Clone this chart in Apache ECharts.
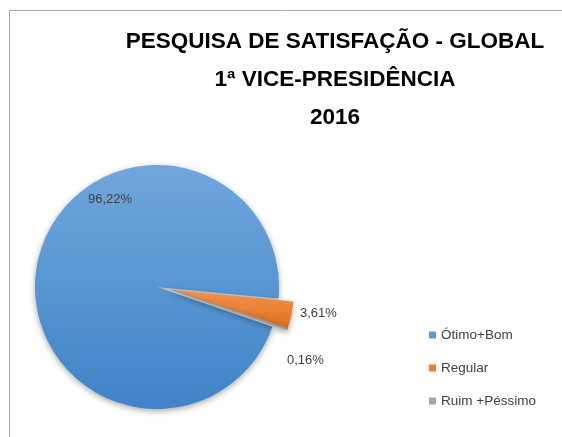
<!DOCTYPE html>
<html>
<head>
<meta charset="utf-8">
<script src="https://cdn.jsdelivr.net/npm/echarts@6/dist/echarts.min.js"></script>
<style>
  html, body { margin: 0; padding: 0; background: #fff; }
  #chart { width: 562px; height: 437px; }
</style>
</head>
<body>
<div id="chart"></div>
<script>
var titleLines = ['PESQUISA DE SATISFAÇÃO - GLOBAL', '1ª VICE-PRESIDÊNCIA', '2016'];
var categories = ['Ótimo+Bom', 'Regular', 'Ruim +Péssimo'];
var values = [96.22, 3.61, 0.16];
var exploded = [false, true, true];

var legendColors = ['#5b9bd5', '#ed7d31', '#a5a5a5'];
var sliceColors = [
    ['#70a6dc', '#3f84c8'],
    ['#f4924e', '#df6f1d'],
    ['#b5b5b5', '#8e8e8e']
];
// where the data labels sit (x, y, align)
var labelSpots = [[110, 199, 'center'], [300, 313, 'left'], [287, 360, 'left']];

var pieCenter = [157, 287];
var pieRadius = 122;
var explodeShift = [15, 3];

function pct(v) {
    return v.toFixed(2).replace('.', ',') + '%';
}

var chart = echarts.init(document.getElementById('chart'));

// one pie per layer: the un-exploded slices, then the pulled-out ones
function layerData(wantExploded) {
    return categories.map(function(name, i) {
        var shown = exploded[i] === wantExploded;
        return {
            name: name,
            value: values[i],
            label: { show: shown },
            itemStyle: shown ? {
                color: {
                    type: 'linear', x: 0, y: 0, x2: 0, y2: 1,
                    colorStops: [
                        { offset: 0, color: sliceColors[i][0] },
                        { offset: 1, color: sliceColors[i][1] }
                    ]
                },
                borderWidth: i === 2 ? 1 : 0,
                borderColor: '#9a9a9a',
                shadowBlur: 6,
                shadowOffsetY: 2,
                shadowColor: 'rgba(0,0,0,0.35)'
            } : { color: 'rgba(0,0,0,0)', borderWidth: 0 }
        };
    });
}

function pieSeries(wantExploded, center) {
    return {
        type: 'pie',
        center: center,
        radius: pieRadius,
        startAngle: 341,
        clockwise: true,
        avoidLabelOverlap: false,
        data: layerData(wantExploded),
        label: {
            position: 'outside',
            formatter: function(p) { return pct(p.value); },
            fontFamily: 'Liberation Sans, Arial, sans-serif',
            fontSize: 13,
            color: '#404040'
        },
        labelLine: { show: false },
        labelLayout: function(p) {
            var s = labelSpots[p.dataIndex];
            return { x: s[0], y: s[1], align: s[2], verticalAlign: 'middle' };
        },
        emphasis: { disabled: true }
    };
}

var option = {
    animation: false,
    backgroundColor: '#ffffff',
    title: {
        text: titleLines.join('\n'),
        left: 330,
        top: 18,
        textAlign: 'center',
        textStyle: {
            fontFamily: 'Liberation Sans, Arial, sans-serif',
            fontWeight: 'bold',
            fontSize: 22.5,
            lineHeight: 38,
            color: '#000000'
        }
    },
    legend: {
        orient: 'vertical',
        left: 429,
        top: 328,
        padding: 0,
        itemWidth: 7,
        itemHeight: 7,
        itemGap: 19,
        icon: 'rect',
        selectedMode: false,
        data: categories.map(function(name, i) {
            return { name: name, itemStyle: { color: legendColors[i] } };
        }),
        textStyle: {
            fontFamily: 'Liberation Sans, Arial, sans-serif',
            fontSize: 13.5,
            lineHeight: 14,
            color: '#404040'
        }
    },
    graphic: [{
        type: 'rect',
        shape: { x: 9.5, y: 10.5, width: 700, height: 600 },
        style: { fill: 'none', stroke: '#a6a6a6', lineWidth: 1 },
        silent: true
    }],
    series: [
        pieSeries(false, pieCenter),
        pieSeries(true, [pieCenter[0] + explodeShift[0], pieCenter[1] + explodeShift[1]])
    ]
};

chart.setOption(option);
</script>
</body>
</html>
